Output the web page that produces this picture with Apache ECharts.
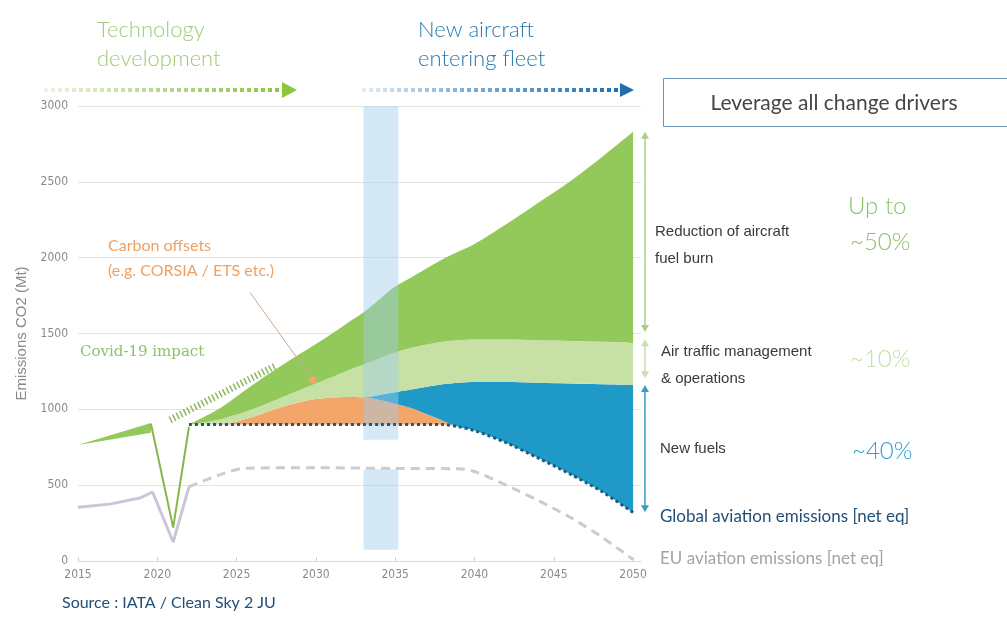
<!DOCTYPE html>
<html>
<head>
<meta charset="utf-8">
<script src="https://cdn.jsdelivr.net/npm/echarts@6/dist/echarts.min.js"></script>
<style>
  html, body { margin: 0; padding: 0; background: #ffffff; }
  #chart { width: 1007px; height: 628px; }
</style>
</head>
<body>
<div id="chart"></div>
<script>
// Axis ticks
const xTickYears = [2015, 2020, 2025, 2030, 2035, 2040, 2045, 2050];
const yTickValues = [0, 500, 1000, 1500, 2000, 2500, 3000];

// Pre-2022 history (Mt CO2)
const preYears = [2015, 2019.6];
const preNet = [765, 845];
const preTotal = [765, 910];
const covidDipYears = [2019.6, 2021, 2022];
const covidDipValues = [905, 220, 885];
const covidTrendYears = [2020.8, 2027.5];
const covidTrendValues = [930, 1290];

// Projection 2022-2050: cumulative boundaries of each driver band
const projYears = [2022, 2024, 2026, 2028, 2030, 2032, 2033, 2034, 2035, 2036, 2038, 2039, 2040, 2042, 2044, 2046, 2048, 2050];
const netEmissions = [900, 900, 900, 900, 900, 900, 900, 900, 900, 900, 900, 885, 860, 780, 680, 575, 460, 320];
const offsetTop = [900, 902, 950, 1020, 1068, 1082, 1080, 1062, 1037, 1008, 925, 885, 860, 780, 680, 575, 460, 320];
const newFuelsTop = [900, 902, 950, 1020, 1068, 1082, 1080, 1095, 1112, 1130, 1165, 1175, 1180, 1180, 1175, 1170, 1165, 1160];
const atmTop = [900, 935, 1000, 1085, 1170, 1255, 1295, 1335, 1375, 1405, 1445, 1455, 1460, 1460, 1455, 1450, 1445, 1437];
const bauTotal = [900, 1010, 1160, 1300, 1430, 1570, 1640, 1725, 1810, 1870, 1990, 2040, 2090, 2220, 2360, 2500, 2660, 2830];

// EU aviation emissions
const euYears = [2015, 2017, 2018.9, 2019.7, 2021, 2022];
const euValues = [355, 375, 415, 455, 125, 490];
const euProjYears = [2022, 2024, 2025.5, 2030, 2035, 2039, 2040, 2042, 2044, 2046, 2048, 2050];
const euProjValues = [490, 570, 612, 615, 610, 608, 590, 500, 400, 290, 160, 10];

// Carbon offsets callout (from label to pointed spot)
const offsetCallout = [[2025.85, 1770], [2029.8, 1195]];

// Fleet-renewal window band
const bandYears = [2033, 2035.2];
const bandPieces = [[3000, 800], [605, 75]];

// Right-hand reduction arrows [from, to] in Mt
const arrowYear = 2050.75;
const burnArrow = [2830, 1510];
const atmArrow = [1462, 1205];
const fuelsArrow = [1160, 322];

const pairs = (xs, ys) => xs.map((x, i) => [x, ys[i]]);
// value first, year second: lets the stack run on the emissions dimension
const stackPairs = (xs, ys) => xs.map((x, i) => [ys[i], x]);
const diff = (a, b) => a.map((v, i) => v - b[i]);

const C = {
  burn: '#93c95a',
  atm: '#c6e0a6',
  fuels: '#1f9ac8',
  offsets: '#f4a56a',
  band: 'rgba(160,205,235,0.45)'
};

const chart = echarts.init(document.getElementById('chart'), null, { renderer: 'canvas' });

const narrow = "'Liberation Sans Narrow', 'DejaVu Sans Condensed', 'Liberation Sans', sans-serif";

function stacked(name, stack, xs, ys, color, smooth) {
  return {
    name, type: 'line', stack, data: stackPairs(xs, ys), encode: { x: 1, y: 0 },
    smooth: smooth, showSymbol: false, lineStyle: { opacity: 0, width: 0 },
    areaStyle: color ? { color, opacity: 1 } : undefined, z: 2, silent: true
  };
}

chart.setOption({
  animation: false,
  backgroundColor: '#ffffff',
  grid: { left: 78, right: 366, top: 106, bottom: 67 },
  xAxis: {
    type: 'value',
    min: 2015,
    max: 2050.5,
    interval: 5,
    axisLine: { show: true, lineStyle: { color: '#d9d9d9', width: 1 } },
    axisTick: { show: true, inside: true, length: 4, lineStyle: { color: '#d0d0d0' }, customValues: xTickYears },
    axisLabel: { color: '#8a8a8a', fontSize: 12, fontFamily: narrow, margin: 8, customValues: xTickYears, formatter: v => String(v) },
    splitLine: { show: false }
  },
  yAxis: {
    type: 'value',
    min: 0,
    max: 3000,
    interval: 500,
    name: 'Emissions CO2 (Mt)',
    nameLocation: 'middle',
    nameRotate: 90,
    nameGap: 47,
    nameTextStyle: { color: '#8a8a8a', fontSize: 15, fontFamily: 'Liberation Sans, sans-serif' },
    axisLine: { show: false },
    axisTick: { show: false },
    axisLabel: { color: '#8a8a8a', fontSize: 12, fontFamily: narrow, margin: 10, customValues: yTickValues, formatter: v => String(v) },
    splitLine: { lineStyle: { color: '#e3e3e3', width: 1 } }
  },
  series: [
    // pre-covid wedge
    stacked('preBase', 'pre', preYears, preNet, null, false),
    stacked('preBurn', 'pre', preYears, diff(preTotal, preNet), C.burn, false),
    // projection stack
    stacked('net', 'proj', projYears, netEmissions, null, 0.3),
    stacked('Carbon offsets', 'proj', projYears, diff(offsetTop, netEmissions), C.offsets, 0.3),
    stacked('New fuels', 'proj', projYears, diff(newFuelsTop, offsetTop), C.fuels, 0.3),
    stacked('Air traffic management', 'proj', projYears, diff(atmTop, newFuelsTop), C.atm, 0.3),
    stacked('Fuel burn', 'proj', projYears, diff(bauTotal, atmTop), C.burn, 0.3),
    // fleet-renewal band
    {
      name: 'band', type: 'line', data: [[bandYears[0], 0]], showSymbol: false, lineStyle: { opacity: 0 }, z: 3, silent: true,
      markArea: {
        silent: true, z: 3,
        itemStyle: { color: C.band },
        data: bandPieces.map(p => [{ coord: [bandYears[0], p[0]] }, { coord: [bandYears[1], p[1]] }])
      }
    },
    // covid dip
    { name: 'covidDip', type: 'line', data: pairs(covidDipYears, covidDipValues), showSymbol: false, lineStyle: { color: '#8ab54c', width: 2 }, z: 4 },
    // pre-covid trend (hatched)
    { name: 'covidTrend', type: 'line', data: pairs(covidTrendYears, covidTrendValues), showSymbol: false, lineStyle: { color: '#8cb85a', width: 7, type: [1.5, 2.5] }, z: 4 },
    // global net emissions
    { name: 'Global net', type: 'line', data: pairs(projYears, netEmissions), smooth: 0.3, showSymbol: false, lineStyle: { color: '#1d5a82', width: 3, type: [3, 3] }, z: 5 },
    // EU emissions
    { name: 'EU hist', type: 'line', data: pairs(euYears, euValues), showSymbol: false, lineStyle: { color: '#c9c6d6', width: 3 }, z: 4 },
    { name: 'EU proj', type: 'line', data: pairs(euProjYears, euProjValues), smooth: 0.3, showSymbol: false, lineStyle: { color: '#cccccc', width: 3, type: [9, 6] }, z: 4 },
    // carbon offsets callout
    {
      name: 'callout', type: 'line', z: 6,
      data: [
        { value: offsetCallout[0], symbol: 'none' },
        { value: offsetCallout[1], symbol: 'circle', symbolSize: 7, itemStyle: { color: '#f4a56a' } }
      ],
      showAllSymbol: true,
      lineStyle: { color: '#c9a98e', width: 1 }
    }
  ]
});

// Annotation layer: headings, callouts and the reduction arrows on the right
const P = (x, y) => chart.convertToPixel({ gridIndex: 0 }, [x, y]);
const lato = "'Lato', 'Open Sans', sans-serif";
const txt = (text, x, y, size, color, family, weight, align) => ({
  type: 'text', x, y, silent: true,
  style: { text, fontSize: size, fontFamily: family || lato, fontWeight: weight || 'normal', fill: color, align: align || 'left', verticalAlign: 'middle' }
});
function vArrow(vals, color, w) {
  const a = P(arrowYear, vals[0]);
  const b = P(arrowYear, vals[1]);
  const x = a[0], s = 4, h = 7;
  return [
    { type: 'line', silent: true, shape: { x1: x, y1: a[1] + h - 1, x2: x, y2: b[1] - h + 1 }, style: { stroke: color, lineWidth: w } },
    { type: 'polygon', silent: true, shape: { points: [[x - s, a[1] + h], [x + s, a[1] + h], [x, a[1]]] }, style: { fill: color } },
    { type: 'polygon', silent: true, shape: { points: [[x - s, b[1] - h], [x + s, b[1] - h], [x, b[1]]] }, style: { fill: color } }
  ];
}

const graphics = [
  // heading arrows
  {
    type: 'line', silent: true, shape: { x1: 44, y1: 90, x2: 281, y2: 90 },
    style: { lineWidth: 4, lineDash: [4, 3], stroke: new echarts.graphic.LinearGradient(0, 0, 1, 0, [{ offset: 0, color: '#eef5e4' }, { offset: 0.45, color: '#b9db92' }, { offset: 1, color: '#8cc63f' }]) }
  },
  { type: 'polygon', silent: true, shape: { points: [[282, 82], [297, 90], [282, 98]] }, style: { fill: '#8cc63f' } },
  {
    type: 'line', silent: true, shape: { x1: 362, y1: 90, x2: 619, y2: 90 },
    style: { lineWidth: 4, lineDash: [4, 3], stroke: new echarts.graphic.LinearGradient(0, 0, 1, 0, [{ offset: 0, color: '#e4eef6' }, { offset: 0.4, color: '#7fb0d4' }, { offset: 1, color: '#1f6fb0' }]) }
  },
  { type: 'polygon', silent: true, shape: { points: [[620, 83], [634, 90], [620, 97]] }, style: { fill: '#1f6fb0' } },
  txt('Technology', 97, 30, 22, '#9fcb74', lato, 300),
  txt('development', 97, 59, 22, '#9fcb74', lato, 300),
  txt('New aircraft', 418, 30, 22, '#2b79ad', lato, 300),
  txt('entering fleet', 418, 59, 22, '#2b79ad', lato, 300),
  // box
  { type: 'rect', silent: true, shape: { x: 663.5, y: 78.5, width: 360, height: 48 }, style: { fill: '#ffffff', stroke: '#6d90b3', lineWidth: 1 } },
  txt('Leverage all change drivers', 834, 103, 21, '#454545', lato, 'normal', 'center'),
  // driver labels
  txt('Reduction of aircraft', 655, 232, 15, '#3a3a3a', 'Liberation Sans, sans-serif'),
  txt('fuel burn', 655, 259, 15, '#3a3a3a', 'Liberation Sans, sans-serif'),
  txt('Up to', 848, 206, 24, '#8cc26a', lato, 300),
  txt('~50%', 850, 242, 24, '#8cc26a', lato, 300),
  txt('Air traffic management', 661, 352, 15, '#3a3a3a', 'Liberation Sans, sans-serif'),
  txt('& operations', 661, 379, 15, '#3a3a3a', 'Liberation Sans, sans-serif'),
  txt('~10%', 850, 359, 24, '#c4dea3', lato, 300),
  txt('New fuels', 660, 449, 15, '#3a3a3a', 'Liberation Sans, sans-serif'),
  txt('~40%', 852, 451, 24, '#2e9fcf', lato, 300),
  txt('Global aviation emissions [net eq]', 660, 517, 17, '#1f4e79', lato),
  txt('EU aviation emissions [net eq]', 660, 559, 17, '#a3a3a3', lato),
  // in-plot notes
  txt('Carbon offsets', 108, 246, 16, '#f0a062', lato),
  txt('(e.g. CORSIA / ETS etc.)', 108, 271, 16, '#f0a062', lato),
  txt('Covid-19 impact', 80, 352, 15, '#8cc26a', "'DejaVu Serif', serif"),
  txt('Source : IATA / Clean Sky 2 JU', 62, 603, 16, '#1f4e79', lato)
]
  .concat(vArrow(burnArrow, '#a9cf8a', 1.5))
  .concat(vArrow(atmArrow, '#c9e0b0', 1.5))
  .concat(vArrow(fuelsArrow, '#3a9cc3', 1.5));

chart.setOption({ graphic: graphics });
</script>
</body>
</html>
